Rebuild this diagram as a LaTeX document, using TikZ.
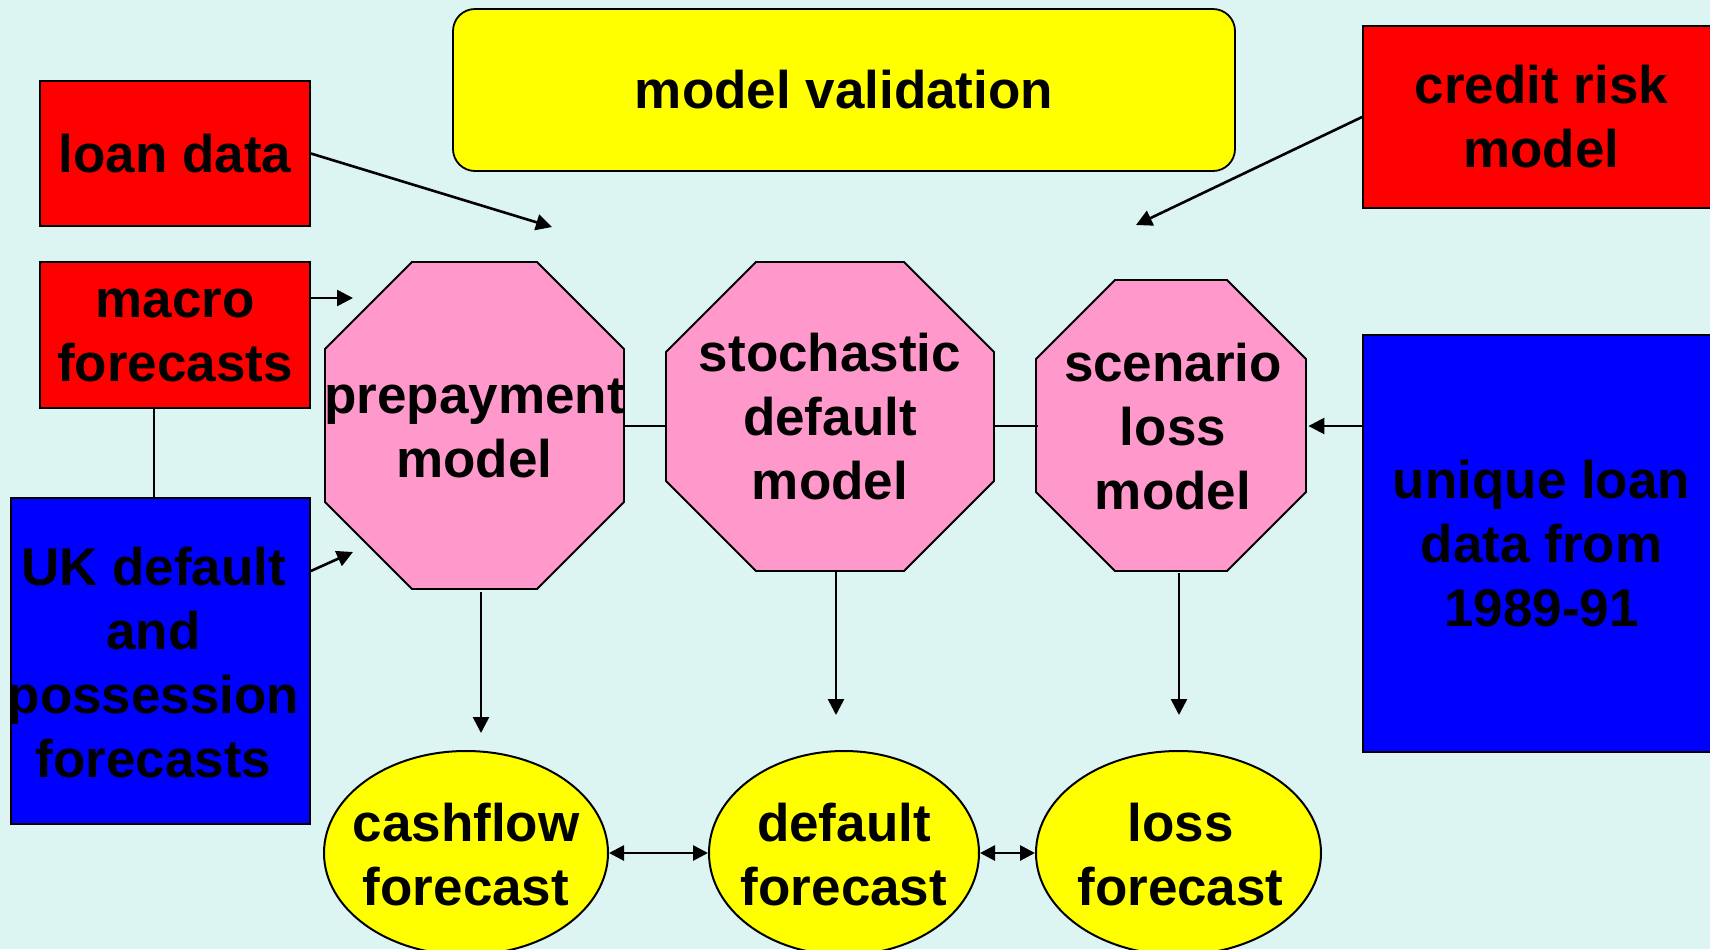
\documentclass[tikz,border=0pt]{standalone}
\usepackage{fontspec}
\setmainfont{Liberation Sans}
\usetikzlibrary{arrows.meta,calc,shapes.geometric}
\definecolor{bgc}{RGB}{221,245,242}
\definecolor{pinkc}{RGB}{255,153,204}
\definecolor{redc}{RGB}{255,0,0}
\definecolor{bluec}{RGB}{0,0,255}
\definecolor{yelc}{RGB}{255,255,0}
\begin{document}
\begin{tikzpicture}[x=0.5pt,y=-0.5pt,
  lbl/.style={font=\fontsize{26.5}{32}\selectfont\bfseries, align=center, text=black},
  box/.style={draw=black, line width=0.9pt, lbl, inner sep=0pt},
  octo/.style={draw=black, line width=0.9pt, fill=pinkc},
  oval/.style={draw=black, line width=1pt, ellipse, inner sep=0pt, fill=yelc},
  arr/.style={line width=1.3pt, -{Triangle[length=8pt,width=8pt]}},
  darr/.style={line width=1.4pt, {Triangle[length=7.5pt,width=7.5pt]}-{Triangle[length=7.5pt,width=7.5pt]}},
  link/.style={line width=0.8pt}]
\fill[bgc] (0,0) rectangle (1710,949);
\useasboundingbox (0,0) rectangle (1710,949);

% boxes
\node[box, fill=yelc, rounded corners=11pt, minimum width=391pt, minimum height=81pt] (valid) at (844,90) {model validation};
\node[box, fill=redc, minimum width=135pt, minimum height=72.5pt] (loan) at (175,153.5) {loan data};
\node[box, fill=redc, minimum width=135pt, minimum height=73pt] (macro) at (175,335) {macro\\forecasts};
\node[box, fill=bluec, minimum width=149.5pt, minimum height=163pt,
      label={[lbl, xshift=-3.5pt, yshift=-1pt]center:{UK default\\and\\possession\\forecasts}}] (uk) at (160.5,661) {};
\node[box, fill=redc, minimum width=178.5pt, minimum height=91pt] (credit) at (1541.5,117) {credit risk\\model};
\node[box, fill=bluec, minimum width=178.5pt, minimum height=208.5pt] (unique) at (1541.5,543.5) {unique loan\\data from\\1989-91};

% octagons
\draw[octo] (412,262) -- (537,262) -- (624,349) -- (624,502) -- (537,589) -- (412,589) -- (325,502) -- (325,349) -- cycle;
\draw[octo] (756,262) -- (904,262) -- (994,352) -- (994,481) -- (904,571) -- (756,571) -- (666,481) -- (666,352) -- cycle;
\draw[octo] (1115,280) -- (1227,280) -- (1306,359) -- (1306,492) -- (1227,571) -- (1115,571) -- (1036,492) -- (1036,359) -- cycle;
\node[lbl, inner sep=0pt, minimum width=149.5pt, minimum height=163.5pt] (prep) at (474.5,428) {prepayment\\model};
\node[lbl, inner sep=0pt, minimum width=164pt, minimum height=154.5pt] (stoch) at (830,417) {stochastic\\default\\model};
\node[lbl, inner sep=0pt, minimum width=135pt, minimum height=145.5pt] (scen) at (1173,427) {scenario\\loss\\model};

% ellipses
\node[oval, minimum width=142pt, minimum height=102pt,
      label={[lbl, yshift=-1pt]center:{cashflow\\forecast}}] (cash) at (466,853) {};
\node[oval, minimum width=135pt, minimum height=102pt,
      label={[lbl, yshift=-1pt]center:{default\\forecast}}] (def) at (844,853) {};
\node[oval, minimum width=142.5pt, minimum height=102pt,
      label={[lbl, yshift=-1pt, xshift=1pt]center:{loss\\forecast}}] (loss) at (1178.5,853) {};

% free arrow ends
\coordinate (lt) at (552,227);
\coordinate (mt) at (353,298);
\coordinate (ut) at (353,552);
\coordinate (us) at (uk.east |- 0,571);
\coordinate (ct) at (1136,225);
\coordinate (t1) at (481,733);
\coordinate (t2) at (836,715);
\coordinate (t3) at (1179,715);
\coordinate (mx) at (154,0);
\coordinate (ly) at (0,426);

% connectors
\draw[arr] (loan.east) -- (lt);
\draw[arr] (macro.east |- mt) -- (mt);
\draw[arr] (us) -- (ut);
\draw[link] (macro.south -| mx) -- (uk.north -| mx);
\draw[arr] (credit.west) -- (ct);
\draw[arr] (ly -| unique.west) -- (ly -| scen.east);
\draw[link] (ly -| prep.east) -- (ly -| stoch.west);
\draw[link] (ly -| stoch.east) -- (ly -| scen.west);
\draw[arr] (prep.south -| t1) -- (t1);
\draw[arr] (stoch.south -| t2) -- (t2);
\draw[arr] (scen.south -| t3) -- (t3);
\draw[darr] (cash.east) -- (def.west);
\draw[darr] (def.east) -- (loss.west);
\end{tikzpicture}
\end{document}
